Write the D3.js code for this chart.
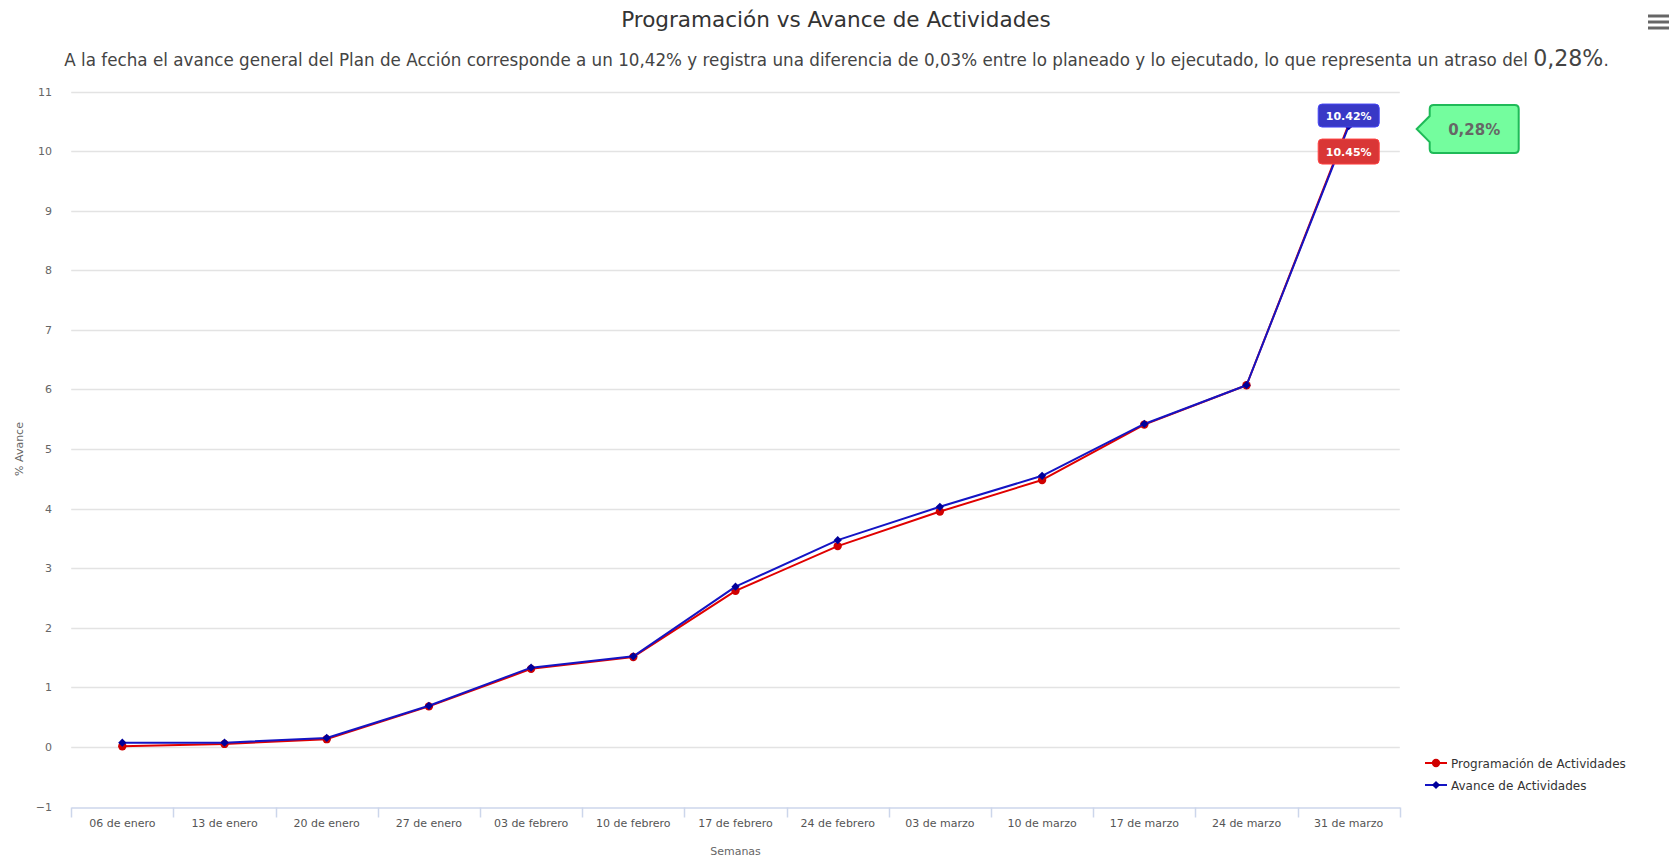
<!DOCTYPE html>
<html>
<head>
<meta charset="utf-8">
<script src="https://cdn.jsdelivr.net/npm/d3@7"></script>
<style>
    html, body { margin: 0; padding: 0; background: #fff; }
    #chart svg { display: block; }
</style>
</head>
<body>
<div id="chart"></div>
<script>
'use strict';

// week labels on the x axis
const semanas = ['06 de enero', '13 de enero', '20 de enero', '27 de enero', '03 de febrero', '10 de febrero',
    '17 de febrero', '24 de febrero', '03 de marzo', '10 de marzo', '17 de marzo', '24 de marzo', '31 de marzo'];

// % planned (red) and % executed (blue)
const programacion = [0.01, 0.05, 0.13, 0.68, 1.31, 1.51, 2.62, 3.37, 3.95, 4.48, 5.41, 6.07, 10.45];
const avance = [0.07, 0.07, 0.15, 0.69, 1.33, 1.52, 2.69, 3.47, 4.03, 4.55, 5.42, 6.07, 10.42];

const yTicks = [-1, 0, 1, 2, 3, 4, 5, 6, 7, 8, 9, 10, 11];

const titulo = 'Programación vs Avance de Actividades';
const subtitulo = 'A la fecha el avance general del Plan de Acción corresponde a un 10,42% y registra una diferencia de 0,03% entre lo planeado y lo ejecutado, lo que representa un atraso del ';
const atraso = '0,28%';

const series = [
    { name: 'Programación de Actividades', values: programacion, line: '#e00000', marker: '#d00000', symbol: 'circle', label: '10.45%', box: '#d93636' },
    { name: 'Avance de Actividades', values: avance, line: '#1414c4', marker: '#00009a', symbol: 'diamond', label: '10.42%', box: '#3838c6' }
];

let width = 1671,
    height = 861,
    font = '"DejaVu Sans", Verdana, sans-serif';

let svg = d3.select('#chart').append('svg')
    .attr('width', width)
    .attr('height', height)
    .style('font-family', font);

let x = d3.scaleBand()
    .domain(semanas)
    .range([71.2, 1399.8])
    .padding(0);

let y = d3.scaleLinear()
    .domain([-1, 11])
    .range([806.5, 91.5]);

let cx = function(i) { return x(semanas[i]) + x.bandwidth() / 2; };

// shrink or grow a text's font so it covers a given width
function fitWidth(sel, target, size) {
    let w = sel.node().getBBox().width;
    sel.attr('font-size', size * target / w);
}

/*
* Title, subtitle and the menu button
 */
let title = svg.append('text')
    .attr('x', 836)
    .attr('y', 27)
    .attr('text-anchor', 'middle')
    .attr('fill', '#333')
    .attr('font-size', 18)
    .text(titulo);
fitWidth(title, 430, 18);

let sub = svg.append('text')
    .attr('x', 836.5)
    .attr('y', 66)
    .attr('text-anchor', 'middle')
    .attr('fill', '#444')
    .attr('font-size', 14);
sub.append('tspan').text(subtitulo);
sub.append('tspan').attr('font-size', '1.32em').text(atraso);
sub.append('tspan').text('.');
fitWidth(sub, 1545, 14);

svg.append('g')
    .selectAll('line')
    .data([16, 22, 28])
    .enter()
    .append('line')
    .attr('x1', 1648)
    .attr('x2', 1669)
    .attr('y1', function(d) { return d; })
    .attr('y2', function(d) { return d; })
    .attr('stroke', '#666')
    .attr('stroke-width', 3);

/*
* Grid, axes and axis titles
 */
let grid = svg.append('g').attr('id', 'grid');

grid.selectAll('line')
    .data(yTicks.filter(function(d) { return d >= 0; }))
    .enter()
    .append('line')
    .attr('x1', x.range()[0])
    .attr('x2', x.range()[1])
    .attr('y1', function(d) { return Math.round(y(d)) + 0.5; })
    .attr('y2', function(d) { return Math.round(y(d)) + 0.5; })
    .attr('stroke', '#e3e3e3')
    .attr('stroke-width', 1.5);

let yAxis = svg.append('g')
    .attr('transform', 'translate(52,0)')
    .call(d3.axisLeft(y).tickValues(yTicks).tickSize(0).tickPadding(0).tickFormat(d3.format('d')));
yAxis.select('.domain').remove();
yAxis.selectAll('text')
    .attr('fill', '#666')
    .attr('font-size', 11)
    .attr('font-family', font);

let xAxis = svg.append('g')
    .attr('transform', 'translate(0,' + (Math.round(y(-1)) + 0.5) + ')')
    .call(d3.axisBottom(x).tickSize(0).tickPadding(12));
xAxis.select('.domain')
    .attr('stroke', '#ccd6eb')
    .attr('stroke-width', 1.5);
xAxis.selectAll('text')
    .attr('fill', '#555')
    .attr('font-size', 11)
    .attr('font-family', font);

// ticks sit on the band edges, not the centres
xAxis.selectAll('.edge')
    .data(semanas.concat(['end']))
    .enter()
    .append('line')
    .attr('class', 'edge')
    .attr('x1', function(d, i) { return Math.round(x.range()[0] + i * x.bandwidth()) + 0.5; })
    .attr('x2', function(d, i) { return Math.round(x.range()[0] + i * x.bandwidth()) + 0.5; })
    .attr('y1', 0)
    .attr('y2', 10)
    .attr('stroke', '#ccd6eb')
    .attr('stroke-width', 1.5);

svg.append('text')
    .attr('transform', 'translate(23,' + ((y(-1) + y(11)) / 2) + ') rotate(-90)')
    .attr('text-anchor', 'middle')
    .attr('fill', '#666')
    .attr('font-size', 11)
    .text('% Avance');

svg.append('text')
    .attr('x', (x.range()[0] + x.range()[1]) / 2)
    .attr('y', 855)
    .attr('text-anchor', 'middle')
    .attr('fill', '#666')
    .attr('font-size', 11)
    .text('Semanas');

/*
* The two series, red drawn first so blue lies on top
 */
let line = d3.line()
    .x(function(d, i) { return cx(i); })
    .y(function(d) { return y(d); });

let circle = d3.symbol().type(d3.symbolCircle).size(55);
let square = d3.symbol().type(d3.symbolSquare).size(34);

function marker(s) {
    return s.symbol === 'circle' ? circle() : square();
}

let seriesGroup = svg.append('g').attr('id', 'series');

series.forEach(function(s) {
    let g = seriesGroup.append('g');

    g.append('path')
        .attr('d', line(s.values))
        .attr('fill', 'none')
        .attr('stroke', s.line)
        .attr('stroke-width', 2)
        .attr('stroke-linejoin', 'round');

    g.selectAll('.marker')
        .data(s.values)
        .enter()
        .append('path')
        .attr('class', 'marker')
        .attr('transform', function(d, i) {
            return 'translate(' + cx(i) + ',' + y(d) + ')' + (s.symbol === 'diamond' ? ' rotate(45)' : '');
        })
        .attr('d', marker(s))
        .attr('fill', s.marker);
});

/*
* Data labels on the last week
 */
let last = semanas.length - 1;
let lx = cx(last);
let ly = y(avance[last]);

let labels = [
    { s: series[1], top: ly - 22, h: 23 },
    { s: series[0], top: ly + 13, h: 25 }
];

labels.forEach(function(l) {
    svg.append('rect')
        .attr('x', lx - 30.5)
        .attr('y', l.top)
        .attr('width', 61)
        .attr('height', l.h)
        .attr('rx', 4)
        .attr('fill', l.s.box)
        .attr('stroke', d3.color(l.s.box).brighter(0.6))
        .attr('stroke-width', 1);

    svg.append('text')
        .attr('x', lx)
        .attr('y', l.top + l.h / 2 + 4)
        .attr('text-anchor', 'middle')
        .attr('fill', '#fff')
        .attr('font-weight', 'bold')
        .attr('font-size', 11)
        .text(l.s.label);
});

/*
* Green call-out with the delay
 */
let bx = lx + 81,
    by = ly - 21,
    bw = 89,
    bh = 48,
    r = 4;

let callout = d3.path();
callout.moveTo(bx + r, by);
callout.lineTo(bx + bw - r, by);
callout.quadraticCurveTo(bx + bw, by, bx + bw, by + r);
callout.lineTo(bx + bw, by + bh - r);
callout.quadraticCurveTo(bx + bw, by + bh, bx + bw - r, by + bh);
callout.lineTo(bx + r, by + bh);
callout.quadraticCurveTo(bx, by + bh, bx, by + bh - r);
callout.lineTo(bx, by + 37);
callout.lineTo(bx - 13, by + 24);
callout.lineTo(bx, by + 11);
callout.lineTo(bx, by + r);
callout.quadraticCurveTo(bx, by, bx + r, by);
callout.closePath();

svg.append('path')
    .attr('d', callout.toString())
    .attr('fill', '#74fd9e')
    .attr('stroke', '#1fba58')
    .attr('stroke-width', 2);

svg.append('text')
    .attr('x', bx + bw / 2)
    .attr('y', by + bh / 2 + 5.5)
    .attr('text-anchor', 'middle')
    .attr('fill', '#666')
    .attr('font-weight', 'bold')
    .attr('font-size', 15)
    .text(atraso);

/*
* Legend
 */
let legend = svg.append('g')
    .attr('transform', 'translate(1425,763)');

let items = legend.selectAll('.item')
    .data(series)
    .enter()
    .append('g')
    .attr('class', 'item')
    .attr('transform', function(d, i) { return 'translate(0,' + (i * 22) + ')'; });

items.append('line')
    .attr('x1', 0)
    .attr('x2', 22)
    .attr('stroke', function(d) { return d.line; })
    .attr('stroke-width', 2);

items.append('path')
    .attr('transform', function(d) { return 'translate(11,0)' + (d.symbol === 'diamond' ? ' rotate(45)' : ''); })
    .attr('d', function(d) { return marker(d); })
    .attr('fill', function(d) { return d.marker; });

items.append('text')
    .attr('x', 26)
    .attr('y', 4.5)
    .attr('fill', '#333')
    .attr('font-size', 12)
    .text(function(d) { return d.name; });
</script>
</body>
</html>
